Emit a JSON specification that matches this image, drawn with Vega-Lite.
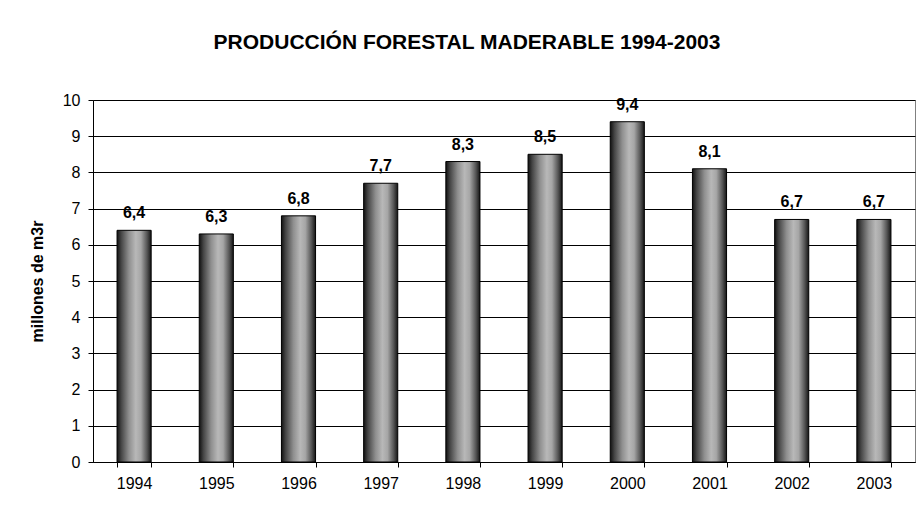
{
  "$schema": "https://vega.github.io/schema/vega-lite/v6.json",
  "width": 822,
  "height": 362,
  "autosize": {"type": "none"},
  "padding": {"left": 93, "top": 100, "right": 2, "bottom": 53},
  "background": "white",
  "title": {
    "text": "PRODUCCIÓN FORESTAL MADERABLE 1994-2003",
    "font": "Liberation Sans",
    "fontSize": 21,
    "fontWeight": "bold",
    "color": "black",
    "anchor": "middle",
    "frame": "group",
    "baseline": "alphabetic",
    "offset": 22,
    "dx": -37
  },
  "data": {
    "values": [
      {"year": "1994", "value": 6.4, "label": "6,4"},
      {"year": "1995", "value": 6.3, "label": "6,3"},
      {"year": "1996", "value": 6.8, "label": "6,8"},
      {"year": "1997", "value": 7.7, "label": "7,7"},
      {"year": "1998", "value": 8.3, "label": "8,3"},
      {"year": "1999", "value": 8.5, "label": "8,5"},
      {"year": "2000", "value": 9.4, "label": "9,4"},
      {"year": "2001", "value": 8.1, "label": "8,1"},
      {"year": "2002", "value": 6.7, "label": "6,7"},
      {"year": "2003", "value": 6.7, "label": "6,7"}
    ]
  },
  "encoding": {
    "x": {
      "field": "year",
      "type": "ordinal",
      "scale": {"paddingInner": 0.585, "paddingOuter": 0.2925},
      "axis": {
        "title": null,
        "labelAngle": 0,
        "labelFont": "Liberation Sans",
        "labelFontSize": 16,
        "labelColor": "black",
        "labelPadding": 8,
        "tickBand": "extent",
        "tickSize": 5,
        "tickColor": "black",
        "domainColor": "black",
        "grid": false
      }
    },
    "y": {
      "field": "value",
      "type": "quantitative",
      "scale": {"domain": [0, 10], "nice": false},
      "axis": {
        "title": "millones de m3r",
        "titleFont": "Liberation Sans",
        "titleFontSize": 16,
        "titleFontWeight": "bold",
        "titleColor": "black",
        "titlePadding": 17,
        "values": [0, 1, 2, 3, 4, 5, 6, 7, 8, 9, 10],
        "labelFont": "Liberation Sans",
        "labelFontSize": 16,
        "labelColor": "black",
        "labelPadding": 8,
        "tickSize": 5,
        "tickColor": "black",
        "domainColor": "black",
        "grid": true,
        "gridColor": "black",
        "gridWidth": 1,
        "gridOpacity": 1
      }
    }
  },
  "layer": [
    {
      "mark": {
        "type": "bar",
        "stroke": "black",
        "strokeWidth": 1,
        "color": {
          "gradient": "linear",
          "x1": 0, "y1": 0, "x2": 1, "y2": 0,
          "stops": [
            {"offset": 0, "color": "#111111"},
            {"offset": 0.12, "color": "#444444"},
            {"offset": 0.35, "color": "#8f8f8f"},
            {"offset": 0.55, "color": "#b8b8b8"},
            {"offset": 0.7, "color": "#a6a6a6"},
            {"offset": 0.88, "color": "#555555"},
            {"offset": 1, "color": "#151515"}
          ]
        }
      }
    },
    {
      "mark": {
        "type": "text",
        "baseline": "alphabetic",
        "dy": -12,
        "font": "Liberation Sans",
        "fontSize": 16,
        "fontWeight": "bold",
        "color": "black"
      },
      "encoding": {"text": {"field": "label"}}
    }
  ],
  "config": {
    "view": {"stroke": "#808080", "strokeWidth": 1}
  }
}
